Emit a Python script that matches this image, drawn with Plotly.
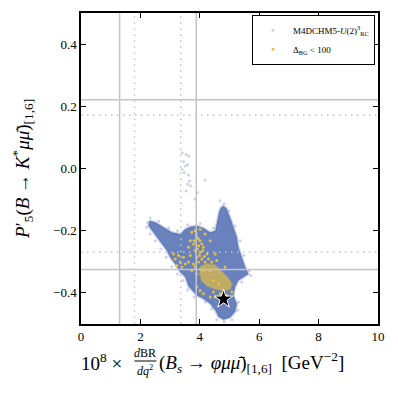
import plotly.graph_objects as go

# ---------------- data ----------------
# dense core of the M4DCHM5 scan (outline of the densely filled region)
core_x = [2.31, 2.50, 2.78, 3.06, 3.34, 3.51, 3.68, 3.90, 4.12, 4.35, 4.52, 4.60, 4.66, 4.78,
          4.89, 5.02, 5.13, 5.25, 5.30, 5.42, 5.53, 5.64, 5.47, 5.30, 5.19, 5.13, 5.25, 5.19,
          5.02, 4.80, 4.63, 4.52, 4.35, 4.12, 3.90, 3.73, 3.62, 3.51, 3.34, 3.17, 3.00, 2.89,
          2.72, 2.56, 2.39, 2.27]
core_y = [-0.168, -0.173, -0.189, -0.205, -0.211, -0.195, -0.187, -0.184, -0.191, -0.205,
          -0.200, -0.168, -0.136, -0.120, -0.127, -0.157, -0.189, -0.221, -0.253, -0.285,
          -0.317, -0.339, -0.349, -0.360, -0.381, -0.408, -0.435, -0.461, -0.479, -0.486,
          -0.477, -0.456, -0.435, -0.419, -0.408, -0.392, -0.379, -0.349, -0.333, -0.307,
          -0.285, -0.264, -0.243, -0.221, -0.200, -0.184]

# sparse scan points (edges and upward trail)
scan_x = [2.24, 2.33, 2.61, 2.95, 3.25, 3.59, 4.01, 4.46, 4.71, 4.98, 5.19, 5.36, 5.49, 5.67,
          5.72, 5.41, 5.30, 5.27, 5.08, 4.82, 4.57, 4.40, 4.18, 3.81, 3.59, 3.43, 3.25, 3.06,
          2.87, 2.69, 2.50, 2.33, 2.20,
          3.41, 3.54, 3.63, 3.45, 3.59, 3.51, 3.40, 3.47, 3.62, 3.65, 3.70, 3.59, 4.18, 3.84,
          3.54, 3.92, 4.68, 4.82]
scan_y = [-0.174, -0.159, -0.170, -0.191, -0.200, -0.181, -0.177, -0.191, -0.127, -0.136,
          -0.184, -0.232, -0.280, -0.328, -0.344, -0.365, -0.429, -0.456, -0.486, -0.493,
          -0.486, -0.451, -0.429, -0.413, -0.390, -0.360, -0.339, -0.315, -0.285, -0.259,
          -0.232, -0.211, -0.189,
          0.051, 0.045, 0.040, 0.022, 0.013, 0.008, -0.003, -0.013, -0.021, -0.040, -0.056,
          -0.051, -0.038, -0.099, -0.072, -0.077, -0.104, -0.113]

# dense region of Delta_BG < 100 points (outline)
bg_core_x = [4.01, 4.24, 4.52, 4.69, 4.91, 5.08, 5.02, 4.80, 4.52, 4.24, 4.07, 4.01]
bg_core_y = [-0.317, -0.307, -0.312, -0.328, -0.349, -0.371, -0.387, -0.392, -0.387, -0.376,
             -0.360, -0.339]

# individual Delta_BG < 100 points
bg_x = [3.73, 3.90, 4.01, 3.79, 3.96, 4.12, 3.84, 4.01, 4.24, 3.68, 3.90, 4.07, 4.29, 3.45,
        3.28, 3.17, 3.34, 3.51, 3.62, 3.40, 3.79, 3.73, 3.90, 4.01, 4.12, 4.35, 3.90, 4.52,
        4.69, 4.91, 5.08, 4.35, 4.18, 4.52, 4.57, 4.85, 3.12, 3.23, 3.62, 3.84, 4.01, 4.12,
        4.35, 4.63, 4.46,
        3.88, 3.96, 3.81, 4.07, 3.92, 4.10, 3.99, 4.15, 3.96, 4.18, 4.40, 3.84, 4.46, 3.68]
bg_y = [-0.205, -0.221, -0.232, -0.243, -0.248, -0.253, -0.264, -0.269, -0.275, -0.280,
        -0.285, -0.291, -0.291, -0.285, -0.280, -0.291, -0.301, -0.307, -0.301, -0.317,
        -0.307, -0.328, -0.339, -0.392, -0.403, -0.413, -0.381, -0.413, -0.403, -0.408,
        -0.397, -0.232, -0.211, -0.275, -0.296, -0.317, -0.275, -0.312, -0.253, -0.200,
        -0.195, -0.328, -0.328, -0.371, -0.360,
        -0.211, -0.227, -0.232, -0.243, -0.259, -0.264, -0.280, -0.283, -0.301, -0.301,
        -0.301, -0.317, -0.397, -0.232]

best_x = [4.80]
best_y = [-0.42]

# experimental bands
vsolid = [1.30, 3.88]
vdot = [1.80, 3.36]
hsolid = [0.221, -0.325]
hdot = [0.171, -0.269]

x_ticks = [0, 2, 4, 6, 8, 10]
y_ticks = [-0.4, -0.2, 0.0, 0.2, 0.4]

BLUE = "#5470b3"
YELLOW = "#e8bf3c"
GREY = "#c4c4c4"
FONT = "Liberation Serif"
DOTS = "1.5px,4.5px"

fig = go.Figure()
fig.add_trace(go.Scatter(x=core_x + [core_x[0]], y=core_y + [core_y[0]], mode="lines",
                         fill="toself", fillcolor="rgba(84,112,179,0.88)",
                         line=dict(color="rgba(84,112,179,0.3)", width=2.5),
                         showlegend=False, hoverinfo="skip"))
fig.add_trace(go.Scatter(x=scan_x, y=scan_y, mode="markers",
                         marker=dict(color=BLUE, size=3, opacity=0.3, line=dict(width=0)),
                         name="M4DCHM5-<i>U</i>(2)<sup>3</sup><sub>RC</sub>"))
fig.add_trace(go.Scatter(x=bg_core_x + [bg_core_x[0]], y=bg_core_y + [bg_core_y[0]],
                         mode="lines", fill="toself", fillcolor="rgba(232,191,60,0.68)",
                         line=dict(color="rgba(232,191,60,0.3)", width=2.5),
                         showlegend=False, hoverinfo="skip"))
fig.add_trace(go.Scatter(x=bg_x, y=bg_y, mode="markers",
                         marker=dict(color=YELLOW, size=3, line=dict(width=0)),
                         name="Δ<sub>BG</sub> &lt; 100"))
fig.add_trace(go.Scatter(x=best_x, y=best_y, mode="markers",
                         marker=dict(symbol="star", size=14, color="black",
                                     line=dict(color="white", width=1)),
                         showlegend=False))

for v in vsolid:
    fig.add_vline(x=v, line=dict(color=GREY, width=1.5), layer="above")
for v in vdot:
    fig.add_vline(x=v, line=dict(color=GREY, width=1.5, dash=DOTS), layer="above")
for h in hsolid:
    fig.add_hline(y=h, line=dict(color=GREY, width=1.5), layer="above")
for h in hdot:
    fig.add_hline(y=h, line=dict(color=GREY, width=1.5, dash=DOTS), layer="above")

# fraction bar of the x-axis label
fig.add_shape(type="line", xref="paper", yref="paper", x0=0.180, x1=0.254,
              y0=-0.119, y1=-0.119, line=dict(color="black", width=1))

axis_common = dict(showgrid=False, zeroline=False, showline=True, linecolor="black",
                   linewidth=1.5, mirror="allticks", ticks="inside", ticklen=5, tickwidth=1,
                   tickcolor="black", tickfont=dict(family=FONT, size=13, color="black"))
fig.update_xaxes(range=[0, 10], tickvals=x_ticks, ticktext=[str(t) for t in x_ticks],
                 **axis_common)
fig.update_yaxes(range=[-0.5, 0.5], tickvals=y_ticks, tickformat=".1f", **axis_common)

big = dict(family=FONT, size=19, color="black")
small = dict(family=FONT, size=12, color="black")
annotations = [
    dict(text="10<sup>8</sup> ×", x=0.1456, y=-0.1224, xanchor="right", yanchor="middle",
         font=big),
    dict(text="<i>d</i>BR", x=0.217, y=-0.094, xanchor="center", yanchor="middle", font=small),
    dict(text="<i>dq</i><sup>2</sup>", x=0.217, y=-0.150, xanchor="center", yanchor="middle",
         font=small),
    dict(text="(<i>B<sub>s</sub></i> → <i>φμμ̄</i>)<sub>[1,6]</sub>  [GeV<sup>−2</sup>]",
         x=0.256, y=-0.1224, xanchor="left", yanchor="middle", font=big),
    dict(text="<i>P</i>′<sub>5</sub>(<i>B</i> → <i>K</i><sup>*</sup><i>μμ̄</i>)<sub>[1,6]</sub>",
         x=-0.197, y=0.5, xanchor="center", yanchor="middle", textangle=-90, font=big),
]
for a in annotations:
    a.update(xref="paper", yref="paper", showarrow=False)

fig.update_layout(
    width=398, height=393,
    margin=dict(l=81, r=20, t=11, b=69),
    paper_bgcolor="white", plot_bgcolor="white",
    annotations=annotations,
    legend=dict(x=0.99, y=0.994, xanchor="right", yanchor="top", bgcolor="white",
                bordercolor="black", borderwidth=1,
                font=dict(family=FONT, size=9, color="black"), tracegroupgap=0),
    showlegend=True,
)

fig.write_html("out.html", post_script="document.body.style.margin='0px';",
               config={"displayModeBar": False})
